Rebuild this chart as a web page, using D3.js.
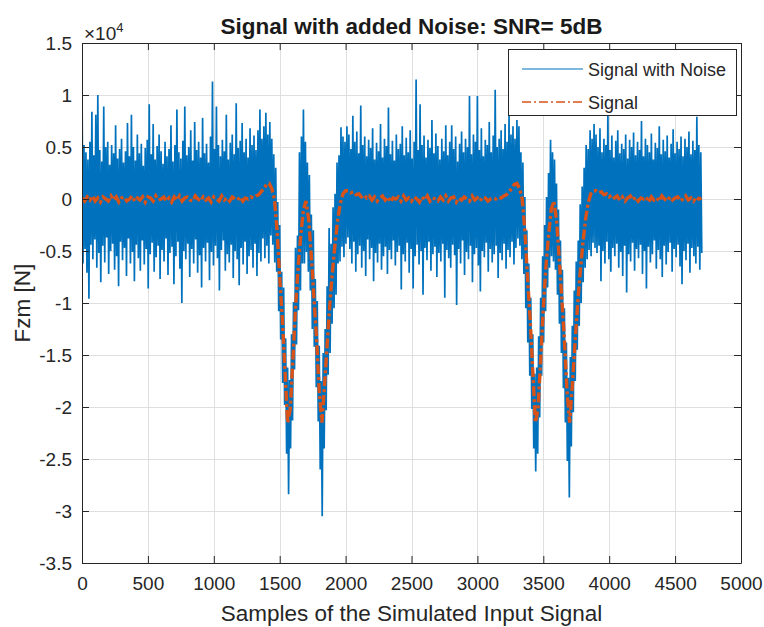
<!DOCTYPE html>
<html>
<head>
<meta charset="utf-8">
<script src="https://cdn.jsdelivr.net/npm/d3@7"></script>
<style>
  html, body { margin: 0; padding: 0; background: #fff; }
  svg { display: block; font-family: "Liberation Sans", Arial, Helvetica, sans-serif; }
</style>
</head>
<body>
<svg id="chart" width="764" height="627"></svg>
<script>
// Force values are in units of 1e4 N (the axis carries a x10^4 multiplier).

// Clean signal, one value every 20 samples starting at sample 0.
const signalStep = 20;
const signal = [
  0.01,-0.02,0.02,-0.01,0.03,-0.02,0.01,-0.03,0.02,0.00,
  -0.02,0.03,-0.01,0.02,-0.03,0.01,0.02,-0.02,0.00,0.03,
  -0.02,0.01,-0.01,0.02,-0.03,0.02,0.01,-0.02,0.03,-0.01,
  0.00,0.02,-0.02,0.01,-0.03,0.02,-0.01,0.03,-0.02,0.01,
  0.02,-0.01,-0.02,0.03,0.00,-0.02,0.02,-0.01,0.01,-0.03,
  0.02,0.00,-0.02,0.03,-0.01,0.01,-0.02,0.02,0.00,-0.01,
  0.02,-0.02,0.01,
  0.00,0.02,0.01,0.03,0.04,0.07,0.10,0.14,0.15,0.10,
  0.00,-0.30,-0.75,-1.15,-1.65,-2.15,-2.02,-1.55,-1.05,-0.65,
  -0.35,-0.10,-0.02,-0.20,-0.55,-0.95,-1.35,-1.85,-2.15,-1.80,
  -1.40,-1.02,-0.70,-0.43,-0.20,-0.04,0.05,0.08,0.08,0.06,
  0.07,0.04,0.05,0.02,0.04,0.01,0.03,-0.01,
  0.02,-0.02,0.01,0.03,-0.01,0.02,-0.03,0.01,0.00,0.02,
  -0.02,0.03,-0.01,0.01,-0.02,0.02,0.00,-0.03,0.02,-0.01,
  0.03,-0.02,0.01,0.00,-0.02,0.02,-0.01,0.03,-0.02,0.01,
  0.02,-0.03,0.01,-0.01,0.02,0.00,-0.02,0.03,-0.01,0.01,
  -0.02,0.02,0.01,-0.02,0.00,0.01,
  0.00,0.02,0.01,0.03,0.04,0.07,0.10,0.14,0.15,0.10,
  0.00,-0.30,-0.75,-1.15,-1.65,-2.15,-2.02,-1.55,-1.05,-0.65,
  -0.35,-0.10,-0.02,-0.20,-0.55,-0.95,-1.35,-1.85,-2.15,-1.80,
  -1.40,-1.02,-0.70,-0.43,-0.20,-0.04,0.05,0.08,0.08,0.06,
  0.07,0.04,0.05,0.02,0.04,0.01,0.03,-0.01,
  0.02,-0.02,0.01,0.03,-0.01,0.02,-0.02,0.01,0.00,0.02,
  -0.03,0.02,-0.01,0.01,-0.02,0.03,0.00,-0.02,0.02,-0.01,
  0.01,0.02,-0.02,0.00,0.03,-0.01,0.01,-0.02,0.02,0.00,
  0.01
];

// Noisy signal: for every 15-sample block, the highest and the lowest sample.
const noiseStep = 15;
const noisyHigh = [
  1.17,0.52,0.45,0.38,0.55,0.84,0.42,0.81,1.00,0.47,
  0.36,0.89,0.50,0.55,0.33,0.52,0.44,0.71,0.39,0.48,
  0.58,0.35,0.46,0.73,0.41,0.81,0.50,0.37,0.62,0.44,
  0.53,0.32,0.49,0.57,0.91,0.43,0.72,0.38,0.51,0.62,
  0.46,0.34,0.55,0.41,0.48,0.71,0.36,0.52,0.86,0.45,
  0.39,0.56,0.89,0.42,0.50,0.66,0.37,0.74,0.47,0.55,
  0.40,0.78,0.44,0.53,0.35,0.60,1.13,0.48,0.89,0.52,
  0.41,0.57,0.46,0.81,0.38,0.54,0.62,0.43,0.92,0.49,
  0.56,0.73,0.45,0.58,0.40,0.68,0.52,0.61,0.47,0.66,
  0.86,0.58,0.70,0.83,0.62,0.74,
  0.58,0.43,0.30,-0.03,-0.25,-0.70,-0.85,-1.34,-1.62,-1.74,
  -1.30,-0.99,-0.47,-0.35,0.45,0.60,0.86,0.55,0.35,0.23,
  -0.15,-0.30,-0.77,-0.98,-1.41,-1.75,-1.48,-1.25,-0.84,-0.28,
  -0.43,-0.08,0.05,0.35,0.42,0.69,0.60,0.55,0.70,
  0.62,0.48,0.80,0.55,0.65,0.44,0.90,0.52,0.60,0.41,
  0.57,0.49,0.68,0.38,0.54,0.46,0.72,0.40,0.58,0.51,
  0.88,0.43,0.56,0.37,0.62,0.48,0.53,0.70,0.42,0.59,
  0.45,0.66,0.39,0.55,1.15,0.47,0.91,0.52,0.61,0.40,
  0.57,0.49,0.76,0.44,0.63,0.51,0.38,0.58,0.46,0.71,
  0.42,0.55,0.71,0.48,0.60,0.36,0.53,0.65,0.45,0.58,
  0.50,0.99,0.43,0.62,0.55,0.99,0.47,0.68,0.41,0.57,
  0.52,0.74,0.45,0.61,1.05,0.50,0.58,0.66,0.48,0.72,
  0.55,0.80,0.62,0.70,0.58,0.76,
  0.70,0.45,0.35,0.02,-0.30,-0.62,-0.95,-1.30,-1.68,-1.62,
  -1.32,-0.95,-0.55,-0.25,0.02,0.25,0.57,0.45,0.38,0.15,
  -0.10,-0.40,-0.68,-1.05,-1.38,-1.72,-1.52,-1.22,-0.88,-0.60,
  -0.40,-0.05,0.12,0.30,0.52,0.48,0.66,0.58,0.72,
  0.62,0.50,0.68,0.45,0.58,0.52,0.85,0.47,0.61,0.40,
  0.56,0.66,0.44,0.53,0.48,0.62,0.39,0.57,0.50,0.64,
  0.42,0.55,0.47,0.75,0.41,0.58,0.52,0.45,0.63,0.38,
  0.54,0.49,0.70,0.43,0.57,0.46,0.61,0.40,0.53,0.67,
  0.44,0.55,0.48,0.60,0.41,0.58,0.50,0.65,0.43,0.56,
  0.47,0.79,0.52,0.45
];
const noisyLow = [
  -0.62,-0.48,-0.71,-0.96,-0.44,-0.58,-0.39,-0.66,-0.52,-0.80,
  -0.45,-0.61,-0.37,-0.72,-0.50,-0.43,-0.68,-0.55,-0.84,-0.41,
  -0.59,-0.47,-0.74,-0.38,-0.62,-0.51,-0.79,-0.44,-0.57,-0.69,
  -0.40,-0.63,-0.48,-0.86,-0.53,-0.42,-0.70,-0.56,-0.45,-0.77,
  -0.49,-0.60,-0.38,-0.73,-0.52,-0.46,-0.82,-0.55,-0.41,-0.67,
  -1.00,-0.50,-0.58,-0.43,-0.75,-0.48,-0.62,-0.39,-0.71,-0.54,
  -0.85,-0.47,-0.60,-0.42,-0.78,-0.51,-0.64,-0.45,-0.57,-0.88,
  -0.49,-0.40,-0.69,-0.53,-0.61,-0.44,-0.76,-0.50,-0.58,-0.83,
  -0.47,-0.63,-0.41,-0.72,-0.55,-0.49,-0.66,-0.43,-0.74,-0.52,
  -0.60,-0.38,-0.57,-0.45,-0.62,-0.35,
  -0.44,-0.61,-0.70,-1.08,-1.35,-1.77,-1.98,-2.45,-2.84,-2.40,
  -2.13,-1.64,-1.40,-1.07,-0.88,-0.62,-0.62,-0.51,-0.70,-0.88,
  -1.25,-1.42,-1.81,-2.14,-2.60,-3.05,-2.40,-2.03,-1.69,-1.48,
  -1.20,-1.05,-0.92,-0.62,-0.60,-0.46,-0.56,-0.43,-0.37,
  -0.48,-0.62,-0.41,-0.70,-0.53,-0.45,-0.66,-0.50,-0.74,-0.39,
  -0.58,-0.47,-0.79,-0.52,-0.61,-0.43,-0.68,-0.55,-0.46,-0.72,
  -0.49,-0.58,-0.40,-0.64,-0.51,-0.45,-0.87,-0.53,-0.60,-0.42,
  -0.71,-0.48,-0.86,-0.55,-0.44,-0.63,-0.50,-0.92,-0.47,-0.59,
  -0.41,-0.69,-0.53,-0.46,-0.75,-0.52,-0.60,-0.43,-0.95,-0.49,
  -0.57,-0.66,-0.44,-0.54,-1.02,-0.48,-0.62,-0.40,-0.73,-0.51,
  -0.58,-0.45,-0.80,-0.53,-0.47,-0.64,-0.89,-0.50,-0.56,-0.42,
  -0.70,-0.48,-0.61,-0.53,-0.45,-0.76,-0.52,-0.59,-0.43,-0.67,
  -0.49,-0.56,-0.41,-0.63,-0.47,-0.38,
  -0.45,-0.58,-0.72,-1.05,-1.38,-1.70,-2.02,-2.40,-2.62,-2.45,
  -2.10,-1.70,-1.38,-1.08,-0.85,-0.66,-0.55,-0.60,-0.68,-0.92,
  -1.20,-1.48,-1.82,-2.15,-2.52,-2.87,-2.38,-2.05,-1.75,-1.45,
  -1.22,-1.00,-0.80,-0.66,-0.58,-0.49,-0.55,-0.42,-0.47,
  -0.52,-0.45,-0.79,-0.50,-0.62,-0.41,-0.58,-0.70,-0.47,-0.55,
  -0.43,-0.66,-0.51,-0.74,-0.45,-0.90,-0.53,-0.60,-0.42,-0.69,
  -0.48,-0.57,-0.44,-0.72,-0.50,-0.86,-0.46,-0.61,-0.53,-0.40,
  -0.67,-0.49,-0.58,-0.75,-0.45,-0.63,-0.51,-0.42,-0.70,-0.48,
  -0.56,-0.44,-0.65,-0.82,-0.50,-0.59,-0.43,-0.71,-0.47,-0.55,
  -0.62,-0.46,-0.68,-0.52
];

const xTicks = [0, 500, 1000, 1500, 2000, 2500, 3000, 3500, 4000, 4500, 5000];
const yTicks = [-3.5, -3, -2.5, -2, -1.5, -1, -0.5, 0, 0.5, 1, 1.5];
const seriesNames = ["Signal with Noise", "Signal"];
const seriesColors = ["#0072BD", "#D95319"];

const titleText = "Signal with added Noise: SNR= 5dB";
const xLabelText = "Samples of the Simulated Input Signal";
const yLabelText = "Fzm [N]";

// ---- layout ----
const svg = d3.select("#chart");
const plot = { left: 82, top: 43, right: 741, bottom: 563 };
const axisColor = "#262626";
const gridColor = "#dfdfdf";
const tickLen = 7;
const dashDot = "10,3,3,3";

const x = d3.scaleLinear().domain([0, 5000]).range([plot.left, plot.right]);
const y = d3.scaleLinear().domain([-3.5, 1.5]).range([plot.bottom, plot.top]);

svg.append("rect").attr("width", 764).attr("height", 627).attr("fill", "#fff");

svg.append("defs").append("clipPath").attr("id", "plotClip")
  .append("rect")
  .attr("x", plot.left).attr("y", plot.top)
  .attr("width", plot.right - plot.left).attr("height", plot.bottom - plot.top);

// grid
const grid = svg.append("g").attr("stroke", gridColor).attr("stroke-width", 1);
grid.selectAll("line.gx").data(xTicks).join("line")
  .attr("x1", d => Math.round(x(d)) + 0.5).attr("x2", d => Math.round(x(d)) + 0.5)
  .attr("y1", plot.top).attr("y2", plot.bottom);
grid.selectAll("line.gy").data(yTicks).join("line")
  .attr("y1", d => Math.round(y(d)) + 0.5).attr("y2", d => Math.round(y(d)) + 0.5)
  .attr("x1", plot.left).attr("x2", plot.right);

// data
const series = svg.append("g").attr("clip-path", "url(#plotClip)");

const noisyPoints = [];
noisyHigh.forEach((v, i) => {
  noisyPoints.push([i * noiseStep, v]);
  noisyPoints.push([i * noiseStep + noiseStep / 2, noisyLow[i]]);
});
const line = d3.line().x(d => x(d[0])).y(d => y(d[1]));

series.append("path")
  .attr("d", line(noisyPoints))
  .attr("fill", "none")
  .attr("stroke", seriesColors[0])
  .attr("stroke-width", 1.7)
  .attr("stroke-linejoin", "bevel");

const signalPoints = signal.map((v, i) => [i * signalStep, v]);
series.append("path")
  .attr("d", line(signalPoints))
  .attr("fill", "none")
  .attr("stroke", seriesColors[1])
  .attr("stroke-width", 3.4)
  .attr("stroke-dasharray", dashDot);

// axes (ticks pointing inward, box on)
const fmt = d => String(d);
const tickFont = 19;

const gB = svg.append("g").attr("transform", `translate(0,${plot.bottom})`)
  .call(d3.axisBottom(x).tickValues(xTicks).tickFormat(fmt).tickSizeInner(-tickLen).tickSizeOuter(0).tickPadding(14));
const gL = svg.append("g").attr("transform", `translate(${plot.left},0)`)
  .call(d3.axisLeft(y).tickValues(yTicks).tickFormat(fmt).tickSizeInner(-tickLen).tickSizeOuter(0).tickPadding(10));
const gT = svg.append("g").attr("transform", `translate(0,${plot.top})`)
  .call(d3.axisTop(x).tickValues(xTicks).tickFormat("").tickSizeInner(-tickLen).tickSizeOuter(0));
const gR = svg.append("g").attr("transform", `translate(${plot.right},0)`)
  .call(d3.axisRight(y).tickValues(yTicks).tickFormat("").tickSizeInner(-tickLen).tickSizeOuter(0));

[gB, gL, gT, gR].forEach(g => {
  g.select(".domain").attr("stroke", axisColor).attr("stroke-width", 1);
  g.selectAll(".tick line").attr("stroke", axisColor).attr("stroke-width", 1);
  g.selectAll(".tick text").attr("fill", axisColor)
    .attr("font-size", tickFont).attr("font-family", "Liberation Sans, Arial, sans-serif");
});

// exponent multiplier
const expo = svg.append("text")
  .attr("x", 84).attr("y", 40)
  .attr("fill", axisColor)
  .attr("font-size", 19);
expo.append("tspan").text("\u00d710");
expo.append("tspan").attr("font-size", 13).attr("dy", -8).text("4");

// title and axis labels
svg.append("text")
  .attr("x", (plot.left + plot.right) / 2).attr("y", 33.5)
  .attr("text-anchor", "middle")
  .attr("font-weight", "bold").attr("font-size", 22.5)
  .attr("fill", "#1a1a1a")
  .text(titleText);

svg.append("text")
  .attr("x", (plot.left + plot.right) / 2).attr("y", 621)
  .attr("text-anchor", "middle")
  .attr("font-size", 22.5)
  .attr("fill", axisColor)
  .text(xLabelText);

svg.append("text")
  .attr("transform", `translate(30,${(plot.top + plot.bottom) / 2}) rotate(-90)`)
  .attr("text-anchor", "middle")
  .attr("font-size", 22.5)
  .attr("fill", axisColor)
  .text(yLabelText);

// legend
const legend = svg.append("g");
legend.append("rect")
  .attr("x", 508.5).attr("y", 49.5).attr("width", 228).attr("height", 66)
  .attr("fill", "#fff").attr("stroke", axisColor).attr("stroke-width", 1);
const legendRows = [69, 102];
seriesNames.forEach((name, i) => {
  legend.append("line")
    .attr("x1", 522).attr("x2", 583)
    .attr("y1", legendRows[i]).attr("y2", legendRows[i])
    .attr("stroke", seriesColors[i])
    .attr("stroke-width", i === 0 ? 1.2 : 1.5)
    .attr("stroke-dasharray", i === 0 ? null : "9,3,2,3");
  legend.append("text")
    .attr("x", 588).attr("y", legendRows[i] + 6.5)
    .attr("font-size", 18).attr("fill", axisColor)
    .text(name);
});
</script>
</body>
</html>
